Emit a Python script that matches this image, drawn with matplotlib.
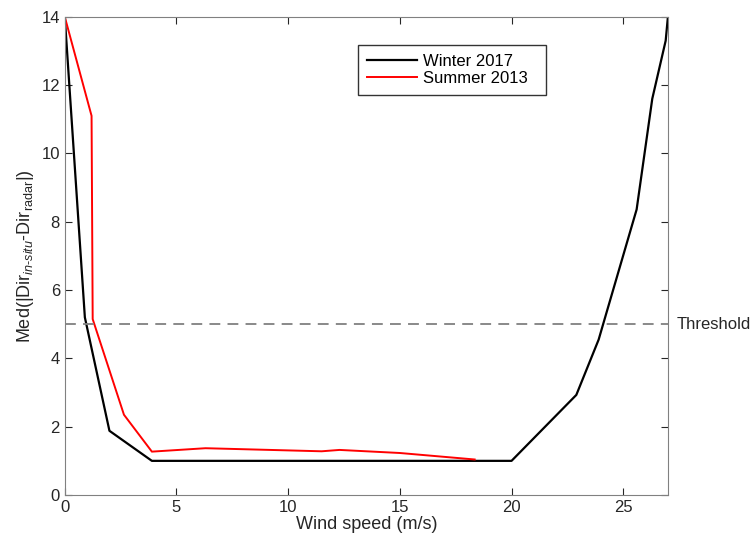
import matplotlib.pyplot as plt

plt.rcParams['font.family'] = ['Liberation Sans', 'DejaVu Sans']
plt.rcParams['mathtext.fontset'] = 'custom'
plt.rcParams['mathtext.rm'] = 'Liberation Sans'
plt.rcParams['mathtext.it'] = 'Liberation Sans:italic'

# Winter 2017
winter_x = [0, 0.9, 2.0, 3.9, 20.0, 22.9, 23.9, 24.1, 25.6, 26.3, 26.9, 27.0]
winter_y = [14, 5.2, 1.88, 1.0, 1.0, 2.93, 4.55, 5.0, 8.36, 11.6, 13.3, 14]

# Summer 2013
summer_x = [0, 1.2, 1.25, 2.65, 3.9, 6.3, 11.5, 12.3, 15.0, 18.35]
summer_y = [14, 11.1, 5.15, 2.35, 1.27, 1.37, 1.28, 1.32, 1.23, 1.04]

threshold = 5

fig = plt.figure(figsize=(7.53, 5.41), dpi=100)
ax = fig.add_axes([0.086, 0.085, 0.801, 0.884])

ax.plot(winter_x, winter_y, color='black', lw=1.6, label='Winter 2017')
ax.plot(summer_x, summer_y, color='#ff0000', lw=1.4, label='Summer 2013')
ax.axhline(threshold, color='#808080', ls=(0, (6, 4)), lw=1.3)
ax.text(27.4, threshold, 'Threshold', va='center', ha='left', fontsize=12, color='#262626')

ax.set_xlim(0, 27)
ax.set_ylim(0, 14)
ax.set_xticks([0, 5, 10, 15, 20, 25])
ax.set_yticks([0, 2, 4, 6, 8, 10, 12, 14])
ax.tick_params(direction='in', top=True, right=True, labelsize=12, colors='#262626', length=5)
for s in ax.spines.values():
    s.set_color('#808080')

ax.set_xlabel('Wind speed (m/s)', fontsize=13, color='#262626', labelpad=1)
ax.set_ylabel(r'Med(|Dir$_{\it{in\text{-}situ}}$-Dir$_{\mathrm{radar}}$|)', fontsize=13, color='#262626', labelpad=4)

leg = ax.legend(loc='upper left', bbox_to_anchor=(0.486, 0.942), fontsize=12,
                frameon=True, fancybox=False, edgecolor='black', handlelength=3.0,
                borderpad=0.55, labelspacing=0.12, handletextpad=0.35, borderaxespad=0)
leg.get_frame().set_linewidth(1.0)
for t in leg.get_texts():
    t.set_text(t.get_text() + '  ')

fig.savefig('out.png', dpi=100)
